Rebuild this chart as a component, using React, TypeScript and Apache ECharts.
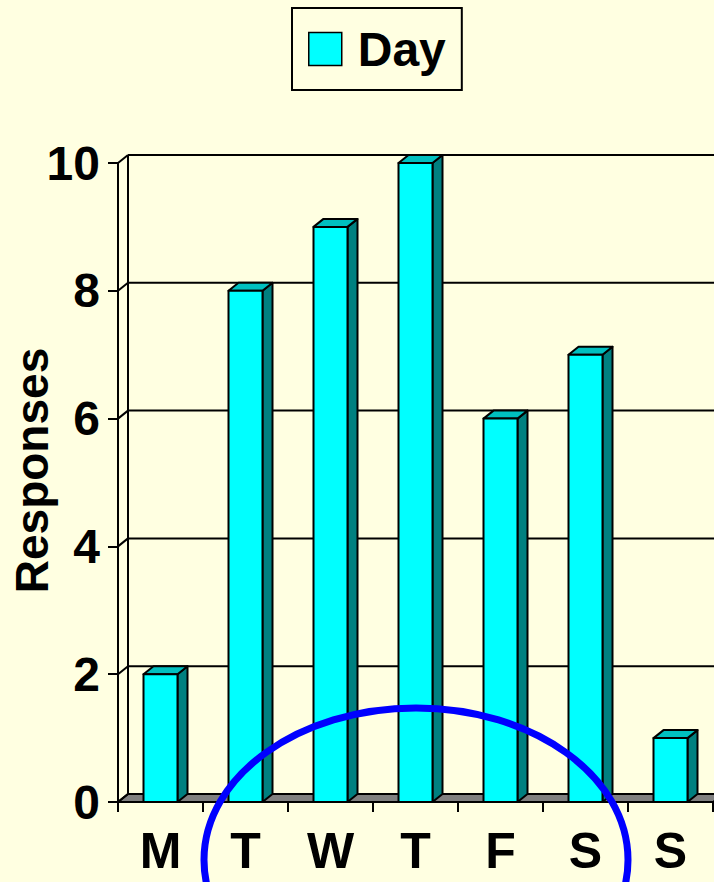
import React, { useEffect, useRef } from "react";
import * as echarts from "echarts";

const categories = ["M", "T", "W", "T", "F", "S", "S"];
const dayValues = [2, 8, 9, 10, 6, 7, 1];
const yTicks = [0, 2, 4, 6, 8, 10];
const seriesName = "Day";

const BG = "#FFFFE1";
const FONT = "'Liberation Sans', Arial, sans-serif";
const DX = 10;
const DY = 8;
const LW = 2;

export default function App() {
  const ref = useRef<HTMLDivElement>(null);
  useEffect(() => {
    document.body.style.margin = "0";
    document.body.style.background = BG;
    const chart = echarts.init(ref.current!, null, { renderer: "svg" });
    const option: any = {
      animation: false,
      backgroundColor: BG,
      textStyle: { fontFamily: FONT },
      legend: {
        left: 292,
        top: 8,
        padding: [17, 16, 17, 16],
        borderColor: "#000",
        borderWidth: 2,
        backgroundColor: BG,
        itemWidth: 33,
        itemHeight: 33,
        itemGap: 0,
        icon: "rect",
        data: [seriesName],
        itemStyle: { color: "#00FFFF", borderColor: "#000", borderWidth: 1.5 },
        textStyle: {
          fontFamily: FONT,
          fontSize: 48,
          fontWeight: "bold",
          color: "#000",
          padding: [0, 0, 0, 11],
        },
      },
      grid: {
        left: 118,
        top: 163,
        width: 595,
        height: 639,
        containLabel: false,
        outerBoundsMode: "none",
      },
      xAxis: {
        type: "category",
        data: categories,
        axisLine: { show: true, lineStyle: { color: "#000", width: LW } },
        axisTick: { show: true, length: 10, lineStyle: { color: "#000", width: LW } },
        axisLabel: {
          margin: 24,
          fontFamily: FONT,
          fontSize: 50,
          fontWeight: "bold",
          color: "#000",
        },
        splitLine: { show: false },
      },
      yAxis: {
        type: "value",
        min: 0,
        max: 10,
        interval: 2,
        name: "Responses",
        nameLocation: "middle",
        nameRotate: 90,
        nameGap: 63,
        nameMoveOverlap: false,
        nameTextStyle: {
          fontFamily: FONT,
          fontSize: 46,
          fontWeight: "bold",
          color: "#000",
          padding: [0, 0, 0, 24],
        },
        axisLine: { show: true, lineStyle: { color: "#000", width: LW } },
        axisTick: { show: true, length: 10, lineStyle: { color: "#000", width: LW } },
        axisLabel: {
          margin: 18,
          fontFamily: FONT,
          fontSize: 48,
          fontWeight: "bold",
          color: "#000",
        },
        splitLine: { show: false },
      },
      series: [
        {
          type: "custom",
          name: "walls",
          silent: true,
          z: 1,
          data: yTicks.map((v) => [0, v]),
          renderItem: (params: any, api: any) => {
            const cs = params.coordSys;
            const v = api.value(1);
            const y = api.coord([0, v])[1];
            const children: any[] = [];
            const ls = { stroke: "#000", lineWidth: LW };
            if (v === 0) {
              const yb = cs.y + cs.height;
              children.push({
                type: "polygon",
                shape: {
                  points: [
                    [cs.x, yb],
                    [cs.x + cs.width, yb],
                    [cs.x + cs.width + DX, yb - DY],
                    [cs.x + DX, yb - DY],
                  ],
                },
                style: { fill: "#808080", stroke: "#000", lineWidth: LW },
              });
              children.push({
                type: "line",
                shape: { x1: cs.x + DX, y1: yb - DY, x2: cs.x + DX, y2: cs.y - DY },
                style: ls,
              });
            } else {
              children.push({
                type: "line",
                shape: { x1: cs.x + DX, y1: y - DY, x2: cs.x + cs.width + DX, y2: y - DY },
                style: ls,
              });
            }
            children.push({
              type: "line",
              shape: { x1: cs.x, y1: y, x2: cs.x + DX, y2: y - DY },
              style: ls,
            });
            return { type: "group", children };
          },
        },
        {
          type: "custom",
          name: seriesName,
          z: 2,
          itemStyle: { color: "#00FFFF", borderColor: "#000", borderWidth: LW },
          data: dayValues.map((v, i) => [i, v]),
          renderItem: (params: any, api: any) => {
            const idx = api.value(0);
            const v = api.value(1);
            const top = api.coord([idx, v]);
            const base = api.coord([idx, 0]);
            const bw = api.size([1, 0])[0] * 0.4;
            const x0 = top[0] - bw / 2;
            const x1 = top[0] + bw / 2;
            const yT = top[1];
            const yB = base[1];
            const st = { stroke: "#000", lineWidth: LW, lineJoin: "round" };
            return {
              type: "group",
              children: [
                {
                  type: "polygon",
                  shape: { points: [[x1, yB], [x1 + DX, yB - DY], [x1 + DX, yT - DY], [x1, yT]] },
                  style: { fill: "#008080", ...st },
                },
                {
                  type: "polygon",
                  shape: { points: [[x0, yT], [x0 + DX, yT - DY], [x1 + DX, yT - DY], [x1, yT]] },
                  style: { fill: "#00C0C0", ...st },
                },
                {
                  type: "rect",
                  shape: { x: x0, y: yT, width: bw, height: yB - yT },
                  style: { fill: "#00FFFF", ...st },
                },
              ],
            };
          },
        },
      ],
      graphic: [
        {
          type: "ellipse",
          z: 100,
          shape: { cx: 416, cy: 860, rx: 212, ry: 152 },
          style: { fill: "none", stroke: "#0000FF", lineWidth: 7 },
        },
      ],
    };
    chart.setOption(option);
    return () => chart.dispose();
  }, []);
  return <div ref={ref} style={{ width: 714, height: 882 }} />;
}
